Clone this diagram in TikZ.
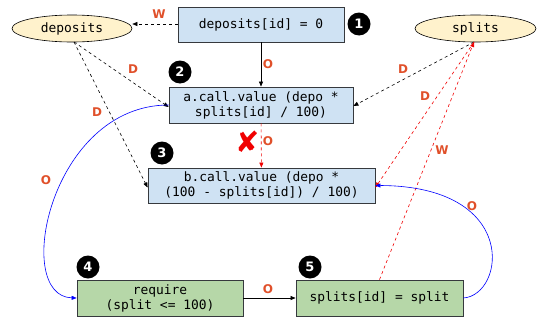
\documentclass[tikz,border=0pt]{standalone}
\usepackage{fontspec}
\setmainfont{DejaVu Sans}
\newfontfamily\codefont{DejaVu Sans Mono}
\usetikzlibrary{shapes.geometric,arrows.meta}
\definecolor{boxblue}{HTML}{CFE2F3}
\definecolor{boxgreen}{HTML}{B6D7A8}
\definecolor{ellfill}{HTML}{FFF2CC}
\definecolor{edgegray}{HTML}{36393D}
\definecolor{lblred}{HTML}{E0502A}
\definecolor{xred}{HTML}{F00000}
\tikzset{
  codebox/.style={draw=edgegray, line width=0.8pt, minimum height=35pt, align=center,
    font=\codefont\fontsize{12.9}{15}\selectfont, inner sep=0pt},
  bluebox/.style={codebox, fill=boxblue},
  greenbox/.style={codebox, fill=boxgreen},
  store/.style={ellipse, draw=black, line width=0.6pt, fill=ellfill, minimum width=120pt,
    minimum height=27pt, inner sep=0pt, font=\codefont\fontsize{12.9}{15}\selectfont},
  badge/.style={circle, fill=black, text=white, minimum size=23pt, inner sep=0pt,
    font=\bfseries\fontsize{13}{13}\selectfont},
  lbl/.style={text=lblred, font=\bfseries\fontsize{12}{12}\selectfont, inner sep=0pt},
  tip/.style={-{Triangle[length=5pt,width=4pt]}},
  blackdash/.style={tip, draw=black, dashed, line width=0.6pt},
  reddash/.style={tip, draw=xred, dashed, line width=0.6pt},
  blackline/.style={tip, draw=black, line width=0.6pt},
  bluecurve/.style={tip, draw=blue, line width=0.6pt},
}
\begin{document}
\begin{tikzpicture}[x=1pt,y=-1pt]
\useasboundingbox (0,0) rectangle (540,324);
% nodes
\node[store] (dep) at (72,28.5) {deposits};
\node[store, minimum width=121pt] (spl) at (475.5,28.5) {splits};
\node[bluebox, minimum width=166pt] (n1) at (261,24.5) {deposits[id] = 0};
\node[bluebox, minimum width=184pt, minimum height=36pt] (n2) at (261,105) {a.call.value (depo *\\splits[id] / 100)};
\node[bluebox, minimum width=227pt] (n3) at (261.5,185.5) {b.call.value (depo *\\(100 - splits[id]) / 100)};
\node[greenbox, minimum width=166pt, minimum height=36pt] (n4) at (160,298) {require\\(split <= 100)};
\node[greenbox, minimum width=167pt, minimum height=36pt] (n5) at (379.5,298) {splits[id] = split};
% badges
\node[badge] (b1) at (359,24) {1};
\node[badge] (b2) at (180,72) {2};
\node[badge] (b3) at (162,153) {3};
\node[badge] (b4) at (88,267) {4};
\node[badge] (b5) at (310,267) {5};
% anchor coordinates
\coordinate (depbot) at (74,42);
\coordinate (splbot) at (474,42);
% edges
\draw[blackdash] (n1.west |- 0,24) -- (dep.east |- 0,24);
\node[lbl] (lw1) at (159,14) {W};
\draw[blackline] (n1) -- (n2);
\node[lbl] (lo1) at (268,64) {O};
\draw[blackdash] (depbot) -- ([yshift=-2pt]n2.west);
\node[lbl] (ld1) at (133,69) {D};
\draw[blackdash] (depbot) -- ([yshift=-2pt]n3.west);
\node[lbl] (ld2) at (97,112) {D};
\draw[blackdash] (splbot) -- ([yshift=-1pt]n2.east);
\node[lbl] (ld3) at (403,69) {D};
\draw[reddash] (splbot) -- ([yshift=-2pt]n3.east);
\node[lbl] (ld4) at (425,96) {D};
\draw[reddash] (n5.north) -- (splbot);
\node[lbl] (lw2) at (442,150) {W};
\draw[reddash] (n2) -- (n3);
\node[lbl] (lo2) at (268,141) {O};
\node[text=xred, font=\fontsize{29}{29}\selectfont, inner sep=0pt] (xmark) at (247.5,142) {✘};
\draw[bluecurve] (n2.west) .. controls (50,105) and (12,296) .. (n4.west);
\node[lbl] (lo3) at (46,180) {O};
\draw[blackline] (n4) -- (n5);
\node[lbl] (lo4) at (268,289) {O};
\draw[bluecurve] (n5.east) .. controls (505,295) and (520,186) .. (n3.east);
\node[lbl] (lo5) at (472,206) {O};
\end{tikzpicture}
\end{document}
